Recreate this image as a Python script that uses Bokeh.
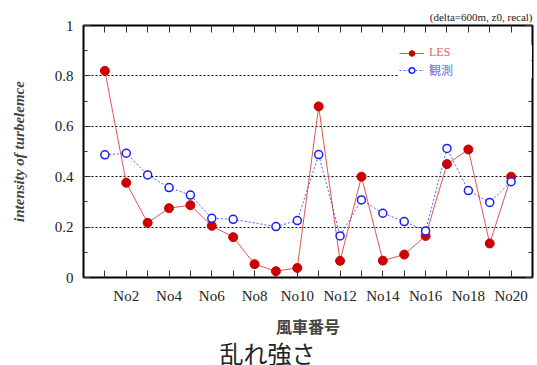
from bokeh.plotting import figure
from bokeh.models import (LinearAxis, FixedTicker, SingleIntervalTicker, Range1d,
                          Legend, LegendItem, Title, ColumnDataSource,
                          CustomJSTickFormatter)
from bokeh.embed import file_html
from bokeh.resources import INLINE

# turbine numbers and turbulence intensity per turbine
turbines = ["No%d" % i for i in range(1, 21)]
les = [0.82, 0.376, 0.217, 0.275, 0.287, 0.205, 0.16, 0.053, 0.025, 0.038,
       0.679, 0.066, 0.40, 0.067, 0.091, 0.165, 0.45, 0.508, 0.135, 0.40]
obs = [0.487, 0.493, 0.407, 0.357, 0.327, 0.235, 0.231, None, 0.202, 0.226,
       0.488, 0.165, 0.308, 0.255, 0.222, 0.185, 0.512, 0.345, 0.298, 0.38]
tick_labels = [t if (i + 1) % 2 == 0 else "" for i, t in enumerate(turbines)]

SERIF = "Liberation Serif"
JP = "Noto Sans CJK JP"

xs = list(range(1, len(turbines) + 1))
les_src = ColumnDataSource(dict(x=xs, y=les))
obs_x = [x for x, v in zip(xs, obs) if v is not None]
obs_y = [v for v in obs if v is not None]
obs_src = ColumnDataSource(dict(x=obs_x, y=obs_y))

p = figure(width=537, height=365, output_backend="svg", toolbar_location=None,
           x_range=Range1d(0, len(turbines) + 1), y_range=Range1d(0, 1),
           min_border_left=83, min_border_right=5, min_border_top=25,
           min_border_bottom=88)
p.outline_line_color = "black"
p.outline_line_width = 2
p.background_fill_color = "white"
p.border_fill_color = "white"

# axes
xt = FixedTicker(ticks=xs)
yt = SingleIntervalTicker(interval=0.2, num_minor_ticks=2)
p.xaxis.ticker = xt
p.xaxis.major_label_overrides = {x: lab for x, lab in zip(xs, tick_labels)}
p.yaxis.ticker = yt

for ax in (p.xaxis[0], p.yaxis[0]):
    ax.axis_line_color = None
    ax.major_tick_in = 7
    ax.major_tick_out = 0
    ax.minor_tick_in = 4
    ax.minor_tick_out = 0
    ax.major_tick_line_color = "#333333"
    ax.minor_tick_line_color = "#333333"
    ax.major_label_text_font = SERIF
    ax.major_label_text_font_size = "15px"
    ax.major_label_text_color = "#222222"
p.xaxis.minor_tick_line_color = None
p.xaxis.major_label_standoff = 10
p.yaxis.major_label_standoff = 10

p.yaxis.axis_label = "intensity of turbelemce"
p.yaxis.axis_label_text_font = SERIF
p.yaxis.axis_label_text_font_style = "bold italic"
p.yaxis.axis_label_text_font_size = "15px"
p.yaxis.axis_label_standoff = 25

p.xaxis.axis_label = "風車番号"
p.xaxis.axis_label_text_font = JP
p.xaxis.axis_label_text_font_style = "bold"
p.xaxis.axis_label_text_font_size = "16px"
p.xaxis.axis_label_standoff = 7

# mirrored unlabeled axes on top and right
blank = CustomJSTickFormatter(code="return ''")
top = LinearAxis(ticker=xt, formatter=blank, axis_line_color=None,
                 major_tick_in=7, major_tick_out=0, minor_tick_line_color=None,
                 major_tick_line_color="#333333", major_label_standoff=0)
right = LinearAxis(ticker=yt, formatter=blank, axis_line_color=None,
                   major_tick_in=7, major_tick_out=0, minor_tick_in=4, minor_tick_out=0,
                   major_tick_line_color="#333333", minor_tick_line_color="#333333",
                   major_label_standoff=0)
p.add_layout(top, "above")
p.add_layout(right, "right")

p.xgrid.grid_line_color = None
p.ygrid.grid_line_color = "black"
p.ygrid.grid_line_dash = "2 2"
p.ygrid.grid_line_width = 1

# series
les_line = p.line("x", "y", source=les_src, line_color="#e05555", line_width=1)
les_pts = p.scatter("x", "y", source=les_src, size=9, fill_color="#cc0000",
                    line_color="#cc0000")
obs_line = p.line("x", "y", source=obs_src, line_color="#3344ff", line_width=1,
                  line_dash="2 2", line_alpha=0.85)
obs_pts = p.scatter("x", "y", source=obs_src, size=8, fill_color="white",
                    line_color="#1a1aff", line_width=1.5)

def make_legend(label, renderers, color, font, y):
    return Legend(items=[LegendItem(label=label, renderers=renderers)],
                  location=(316, y), padding=6, margin=0, spacing=0,
                  glyph_width=25, glyph_height=14, label_height=14,
                  label_width=115, label_standoff=5,
                  border_line_color=None, background_fill_color="white",
                  background_fill_alpha=1.0,
                  label_text_font=font, label_text_font_size="12px",
                  label_text_color=color)

# the lower entry goes in first so the upper one is drawn on top of it
p.add_layout(make_legend("観測", [obs_line, obs_pts], "#6b6bee", JP, 199), "center")
p.add_layout(make_legend("LES", [les_line, les_pts], "#e06060", SERIF, 217), "center")

# annotation above the frame
p.add_layout(Title(text="(delta=600m, z0, recal)", align="right",
                   text_font=SERIF, text_font_size="11px",
                   text_font_style="normal", text_color="#222222",
                   standoff=5), "above")

# chart caption below the axis title
p.add_layout(Title(text="乱れ強さ", align="left", offset=136,
                   vertical_align="top",
                   text_font=JP, text_font_size="24px",
                   text_font_style="normal", text_color="#222222",
                   standoff=-12), "below")

open("out.html", "w").write(file_html(p, INLINE))
